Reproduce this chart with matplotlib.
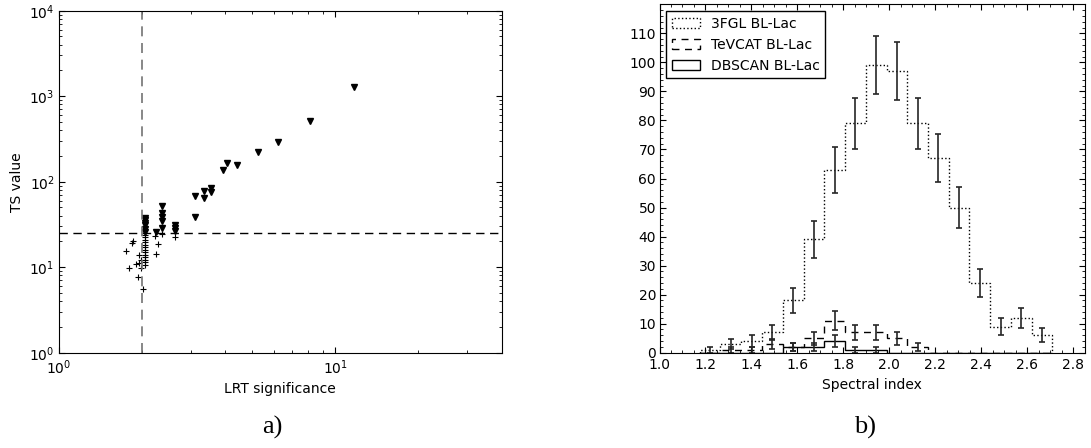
from matplotlib import pyplot as plt
import numpy as np

# panel a) : LRT significance vs TS value
tri_lrt = [11.7, 8.12, 6.20, 5.26, 4.42, 4.05, 3.92, 3.55, 3.55, 3.35, 3.35, 3.12, 3.12,
           2.63, 2.63, 2.63, 2.36, 2.36, 2.36, 2.36, 2.36, 2.25,
           2.05, 2.05, 2.05, 2.05, 2.05, 2.05]
tri_ts = [1270, 508, 291, 221, 155, 164, 136, 84, 76, 77, 65, 68, 39,
          31, 29, 26.5, 52, 43, 39, 35, 28.5, 26,
          38, 36, 33, 31, 28, 26]
plus_lrt = [1.75, 1.80, 1.84, 1.86, 1.91, 1.94, 1.95, 1.95, 1.98, 1.99, 2.02,
            2.05, 2.05, 2.05, 2.05, 2.05, 2.05, 2.05, 2.05, 2.05, 2.05, 2.05, 2.05, 2.05,
            2.23, 2.24, 2.28, 2.36, 2.64]
plus_ts = [15.6, 9.7, 19, 20, 10.9, 7.6, 13.9, 11.1, 12.1, 9.7, 5.5,
           10.6, 11.5, 12.3, 13, 14, 15, 16, 17, 18, 19.5, 21, 22.5, 24,
           23, 14.2, 18.7, 24.5, 22.4]
lrt_cut = 2.0
ts_cut = 25

# panel b) : spectral index histograms
bin_edges = [1.175, 1.265, 1.356, 1.446, 1.536, 1.627, 1.717, 1.807, 1.898,
             1.988, 2.078, 2.168, 2.259, 2.349, 2.439, 2.530, 2.620, 2.710]
n_3fgl = [1, 3, 4, 7, 18, 39, 63, 79, 99, 97, 79, 67, 50, 24, 9, 12, 6]
n_tevcat = [0, 1, 1, 3, 2, 5, 11, 7, 7, 5, 2, 0, 0, 0, 0, 0, 0]
n_dbscan = [0, 0, 0, 0, 2, 2, 4, 1, 1, 0, 0, 0, 0, 0, 0, 0, 0]

plt.rcParams['font.family'] = 'DejaVu Sans'
plt.rcParams['font.size'] = 10
for a in ('xtick', 'ytick'):
    plt.rcParams[a + '.direction'] = 'in'
    plt.rcParams[a + '.major.size'] = 4
    plt.rcParams[a + '.minor.size'] = 2
plt.rcParams['xtick.major.pad'] = 4
plt.rcParams['ytick.major.pad'] = 3
plt.rcParams['xtick.top'] = True
plt.rcParams['ytick.right'] = True

fig = plt.figure(figsize=(10.91, 4.48), dpi=100)
ax1 = fig.add_axes([58.7 / 1091, 1 - 352.7 / 448, (501.6 - 58.7) / 1091, (352.7 - 10.7) / 448])
ax2 = fig.add_axes([659.5 / 1091, 1 - 352.7 / 448, (1084.6 - 659.5) / 1091, (352.7 - 4.3) / 448])

# a)
ax1.set_xscale('log')
ax1.set_yscale('log')
ax1.plot(plus_lrt, plus_ts, linestyle='none', marker='+', color='k', markersize=4, markeredgewidth=0.8)
ax1.plot(tri_lrt, tri_ts, linestyle='none', marker='v', color='k', markersize=4.5)
ax1.axhline(ts_cut, color='k', linestyle=(0, (6, 4)), linewidth=1)
ax1.axvline(lrt_cut, color='0.45', linestyle=(0, (6, 4)), linewidth=1.2)
ax1.set_xlim(1, 40)
ax1.set_ylim(1, 1e4)
ax1.set_xlabel('LRT significance')
ax1.set_ylabel('TS value')

# b)
centers = (np.array(bin_edges[:-1]) + np.array(bin_edges[1:])) / 2
series = [(n_3fgl, ':', '3FGL BL-Lac'),
          (n_tevcat, (0, (5, 4)), 'TeVCAT BL-Lac'),
          (n_dbscan, '-', 'DBSCAN BL-Lac')]
for counts, ls, lab in series:
    counts = np.array(counts, dtype=float)
    ax2.hist(centers, bins=bin_edges, weights=counts, histtype='step',
             color='k', linestyle=ls, linewidth=1, label=lab)
    nz = counts > 0
    # poisson error bars
    ax2.errorbar(centers[nz], counts[nz], yerr=np.sqrt(counts[nz]), fmt='none',
                 ecolor='0.15', elinewidth=1.2, capsize=2.5, capthick=1.2)
ax2.set_xlim(1.0, 2.85)
ax2.set_ylim(0, 120)
ax2.set_xticks(np.arange(1.0, 2.81, 0.2))
ax2.set_yticks(np.arange(0, 111, 10))
ax2.minorticks_on()
ax2.tick_params(axis='y', which='major', pad=2.5)
ax2.set_xlabel('Spectral index')
leg = ax2.legend(loc='upper left', fancybox=False, framealpha=1, edgecolor='k',
                 borderaxespad=0.5, handlelength=2.0)
leg.get_frame().set_linewidth(1)

fig.text(272 / 1091, 1 - 427 / 448, 'a)', family='Liberation Serif', fontsize=19,
         ha='center', va='center')
fig.text(865 / 1091, 1 - 427 / 448, 'b)', family='Liberation Serif', fontsize=19,
         ha='center', va='center')

fig.savefig('out.png', dpi=100)
